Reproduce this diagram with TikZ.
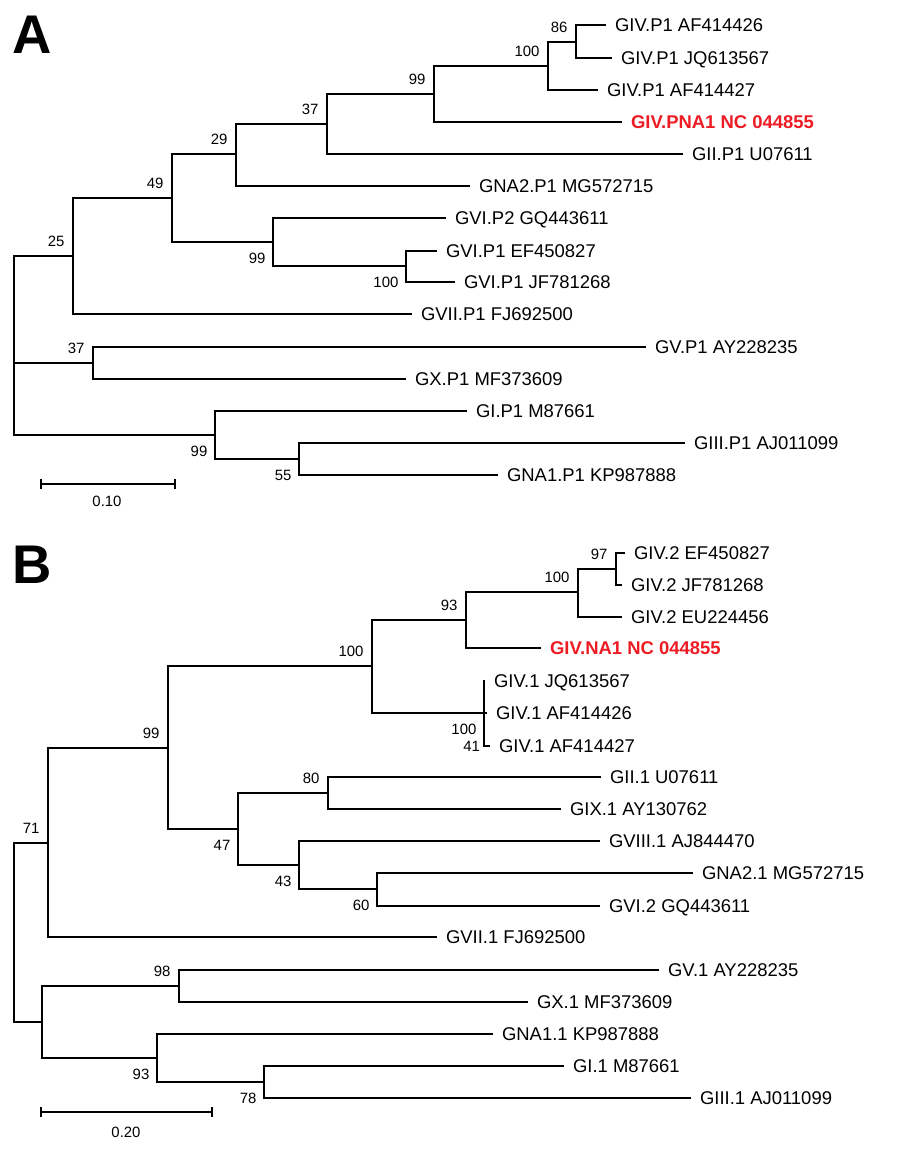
\documentclass[tikz,border=0pt]{standalone}
\usepackage{fontspec}
\setmainfont{Liberation Sans}
\definecolor{tipred}{RGB}{237,28,36}
\begin{document}
\begin{tikzpicture}[x=0.02cm, y=-0.02cm, line width=0.7pt,
    tip/.style={anchor=west, inner xsep=4.8pt, inner ysep=0pt, text height=7.5pt, text depth=0pt, font=\fontsize{10.5}{12}\selectfont},
    hit/.style={tip, text=tipred, font=\fontsize{10.5}{12}\selectfont\bfseries},
    bsa/.style={anchor=south east, inner sep=0pt, xshift=-4.5pt, yshift=5pt, font=\fontsize{8.5}{10}\selectfont},
    bsb/.style={anchor=north east, inner sep=0pt, xshift=-4pt, yshift=-6pt, font=\fontsize{8.5}{10}\selectfont},
    bar/.style={inner sep=0pt, font=\fontsize{8.5}{10}\selectfont},
    panel/.style={anchor=base west, inner sep=0pt, font=\fontsize{31}{31}\selectfont\bfseries}]
    \useasboundingbox (0,0) rectangle (900,1155);

    % panel A
    \node[panel] (pA) at (12,54) {A};
    \coordinate (Ar) at (14,345);
    \coordinate (A25) at (73,256);
    \coordinate (A49) at (172,198);
    \coordinate (A29) at (236,154);
    \coordinate (A37) at (327,124);
    \coordinate (A99) at (434,94);
    \coordinate (A100) at (548,66);
    \coordinate (A86) at (576,42);
    \coordinate (A99b) at (273,242);
    \coordinate (A100b) at (406,266);
    \coordinate (A37b) at (93,363);
    \coordinate (A99c) at (215,435);
    \coordinate (A55) at (299,459);
    \node[tip] (ta1) at (606,25) {GIV.P1 AF414426};
    \node[tip] (ta2) at (612,58) {GIV.P1 JQ613567};
    \node[tip] (ta3) at (598,90) {GIV.P1 AF414427};
    \node[hit] (ta4) at (622,122) {GIV.PNA1 NC 044855};
    \node[tip] (ta5) at (683,154) {GII.P1 U07611};
    \node[tip] (ta6) at (470,186) {GNA2.P1 MG572715};
    \node[tip] (ta7) at (446,218) {GVI.P2 GQ443611};
    \node[tip] (ta8) at (437,251) {GVI.P1 EF450827};
    \node[tip] (ta9) at (455,282) {GVI.P1 JF781268};
    \node[tip] (ta10) at (412,314) {GVII.P1 FJ692500};
    \node[tip] (ta11) at (646,347) {GV.P1 AY228235};
    \node[tip] (ta12) at (406,379) {GX.P1 MF373609};
    \node[tip] (ta13) at (467,411) {GI.P1 M87661};
    \node[tip] (ta14) at (685,443) {GIII.P1 AJ011099};
    \node[tip] (ta15) at (498,475) {GNA1.P1 KP987888};
    \draw (Ar) |- (A25);
    \draw (Ar) |- (A37b);
    \draw (Ar) |- (A99c);
    \draw (A25) |- (A49);
    \draw (A25) |- (ta10.west);
    \draw (A49) |- (A29);
    \draw (A49) |- (A99b);
    \draw (A29) |- (A37);
    \draw (A29) |- (ta6.west);
    \draw (A37) |- (A99);
    \draw (A37) |- (ta5.west);
    \draw (A99) |- (A100);
    \draw (A99) |- (ta4.west);
    \draw (A100) |- (A86);
    \draw (A100) |- (ta3.west);
    \draw (A86) |- (ta1.west);
    \draw (A86) |- (ta2.west);
    \draw (A99b) |- (ta7.west);
    \draw (A99b) |- (A100b);
    \draw (A100b) |- (ta8.west);
    \draw (A100b) |- (ta9.west);
    \draw (A37b) |- (ta11.west);
    \draw (A37b) |- (ta12.west);
    \draw (A99c) |- (ta13.west);
    \draw (A99c) |- (A55);
    \draw (A55) |- (ta14.west);
    \draw (A55) |- (ta15.west);
    \node[bsa] at (A25) {25};
    \node[bsa] at (A49) {49};
    \node[bsa] at (A29) {29};
    \node[bsa] at (A37) {37};
    \node[bsa] at (A99) {99};
    \node[bsa] at (A100) {100};
    \node[bsa] at (A86) {86};
    \node[bsb] at (A99b) {99};
    \node[bsb] at (A100b) {100};
    \node[bsa] at (A37b) {37};
    \node[bsb] at (A99c) {99};
    \node[bsb] at (A55) {55};
    \coordinate (sa1) at (41,484);
    \coordinate (sa2) at (175,484);
    \draw (sa1) -- (sa2);
    \draw ([yshift=2.8pt]sa1) -- ([yshift=-2.8pt]sa1);
    \draw ([yshift=2.8pt]sa2) -- ([yshift=-2.8pt]sa2);
    \node[bar] (sal) at (107,501) {0.10};

    % panel B
    \node[panel] (pB) at (12,583) {B};
    \coordinate (Br) at (14,932);
    \coordinate (B71) at (48,843);
    \coordinate (B99) at (168,748);
    \coordinate (B100) at (372,666);
    \coordinate (B93) at (466,620);
    \coordinate (B100b) at (578,592);
    \coordinate (B97) at (616,569);
    \coordinate (B100c) at (484,713);
    \coordinate (B41) at (484,730);
    \coordinate (B47) at (238,829);
    \coordinate (B80) at (328,793);
    \coordinate (B43) at (299,865);
    \coordinate (B60) at (377,889);
    \coordinate (Bl) at (42,1022);
    \coordinate (B98) at (179,986);
    \coordinate (B93b) at (157,1058);
    \coordinate (B78) at (264,1082);
    \node[tip] (tb1) at (625,553) {GIV.2 EF450827};
    \node[tip] (tb2) at (622,585) {GIV.2 JF781268};
    \node[tip] (tb3) at (622,617) {GIV.2 EU224456};
    \node[hit] (tb4) at (541,648) {GIV.NA1 NC 044855};
    \node[tip] (tb5) at (485,681) {GIV.1 JQ613567};
    \node[tip] (tb6) at (487,713) {GIV.1 AF414426};
    \node[tip] (tb7) at (490,746) {GIV.1 AF414427};
    \node[tip] (tb8) at (601,777) {GII.1 U07611};
    \node[tip] (tb9) at (561,809) {GIX.1 AY130762};
    \node[tip] (tb10) at (600,841) {GVIII.1 AJ844470};
    \node[tip] (tb11) at (693,873) {GNA2.1 MG572715};
    \node[tip] (tb12) at (600,906) {GVI.2 GQ443611};
    \node[tip] (tb13) at (437,937) {GVII.1 FJ692500};
    \node[tip] (tb14) at (659,970) {GV.1 AY228235};
    \node[tip] (tb15) at (528,1002) {GX.1 MF373609};
    \node[tip] (tb16) at (493,1034) {GNA1.1 KP987888};
    \node[tip] (tb17) at (564,1066) {GI.1 M87661};
    \node[tip] (tb18) at (691,1098) {GIII.1 AJ011099};
    \draw (Br) |- (B71);
    \draw (Br) |- (Bl);
    \draw (B71) |- (B99);
    \draw (B71) |- (tb13.west);
    \draw (B99) |- (B100);
    \draw (B99) |- (B47);
    \draw (B100) |- (B93);
    \draw (B100) |- (B100c);
    \draw (B93) |- (B100b);
    \draw (B93) |- (tb4.west);
    \draw (B100b) |- (B97);
    \draw (B100b) |- (tb3.west);
    \draw (B97) |- (tb1.west);
    \draw (B97) |- (tb2.west);
    \draw (B100c) |- (tb5.west);
    \draw (B100c) |- (B41);
    \draw (B41) |- (tb6.west);
    \draw (B41) |- (tb7.west);
    \draw (B47) |- (B80);
    \draw (B47) |- (B43);
    \draw (B80) |- (tb8.west);
    \draw (B80) |- (tb9.west);
    \draw (B43) |- (tb10.west);
    \draw (B43) |- (B60);
    \draw (B60) |- (tb11.west);
    \draw (B60) |- (tb12.west);
    \draw (Bl) |- (B98);
    \draw (Bl) |- (B93b);
    \draw (B98) |- (tb14.west);
    \draw (B98) |- (tb15.west);
    \draw (B93b) |- (tb16.west);
    \draw (B93b) |- (B78);
    \draw (B78) |- (tb17.west);
    \draw (B78) |- (tb18.west);
    \node[bsa] at (B71) {71};
    \node[bsa] at (B99) {99};
    \node[bsa] at (B100) {100};
    \node[bsa] at (B93) {93};
    \node[bsa] at (B100b) {100};
    \node[bsa] at (B97) {97};
    \node[bsb] at (B100c) {100};
    \node[bsb, xshift=2pt] at (B41) {41};
    \node[bsb] at (B47) {47};
    \node[bsa] at (B80) {80};
    \node[bsb] at (B43) {43};
    \node[bsb] at (B60) {60};
    \node[bsa] at (B98) {98};
    \node[bsb] at (B93b) {93};
    \node[bsb] at (B78) {78};
    \coordinate (sb1) at (41,1112);
    \coordinate (sb2) at (212,1112);
    \draw (sb1) -- (sb2);
    \draw ([yshift=2.8pt]sb1) -- ([yshift=-2.8pt]sb1);
    \draw ([yshift=2.8pt]sb2) -- ([yshift=-2.8pt]sb2);
    \node[bar] (sbl) at (126,1132) {0.20};
\end{tikzpicture}
\end{document}
